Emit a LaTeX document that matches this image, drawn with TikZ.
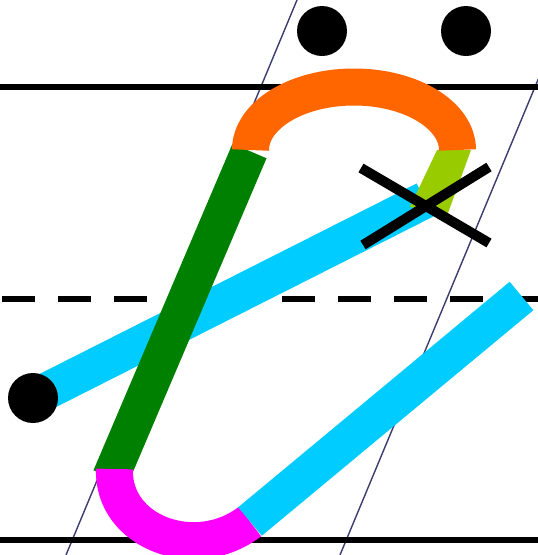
\documentclass[tikz,border=0pt]{standalone}
\usetikzlibrary{calc}
\definecolor{cOrange}{HTML}{FF6600}
\definecolor{cGreen}{HTML}{008000}
\definecolor{cLime}{HTML}{99CC00}
\definecolor{cCyan}{HTML}{00CCFF}
\definecolor{cMagenta}{HTML}{FF00FF}
\definecolor{cGuide}{RGB}{60,60,110}
\tikzset{
  guide/.style={draw=cGuide, line width=1.4pt},
  rule/.style={draw=black, line width=6pt},
  stroke/.style={line width=37pt, line cap=butt},
  cross/.style={draw=black, line width=10pt, line cap=butt},
  dot/.style={fill=black},
}
\begin{document}
\begin{tikzpicture}[x=1pt,y=-1pt]
\useasboundingbox (0,0) rectangle (538,555);
\fill[white] (0,0) rectangle (538,555);
% guide lines
\draw[guide] (297,0) -- (66,555);
\draw[guide] (538.3,79) -- (340,555);
% horizontal rules
\draw[rule] (0,87) -- (538,87);
\draw[rule] (0,540) -- (538,540);
\draw[rule, dash pattern=on 33pt off 23pt, dash phase=54pt] (0,299) -- (538,299);
% cyan first stroke
\coordinate (dotL) at (33,398);
\coordinate (cyanEnd) at (425,200);
\draw[stroke, cCyan] (dotL) -- (cyanEnd);
% green stroke
\coordinate (gTop) at (249.5,151);
\coordinate (gBot) at (110.5,477.5);
\draw[stroke, cGreen] (gTop) -- (gBot);
% magenta curve
\coordinate (mStart) at (114.5,469);
\coordinate (mEnd) at (250,521.5);
\draw[stroke, cMagenta] (mStart) .. controls (112,532) and (195.5,563.6) .. (mEnd);
% cyan second stroke
\coordinate (c2End) at (521.5,296);
\draw[stroke, cCyan] (mEnd) -- (c2End);
% lime piece
\fill[cLime] (437,150) -- (471,150) -- (448,213) -- (410,207) -- cycle;
% orange arc
\draw[stroke, cOrange] (250.5,150) arc[start angle=180, end angle=360, x radius=103.5, y radius=63];
% cross
\draw[cross] (361,168) -- (489,243);
\draw[cross] (363,245) -- (489,167);
% dots
\fill[dot] (322,31) circle[radius=25];
\fill[dot] (466,31) circle[radius=25];
\fill[dot] (dotL) circle[radius=25];
\end{tikzpicture}
\end{document}
